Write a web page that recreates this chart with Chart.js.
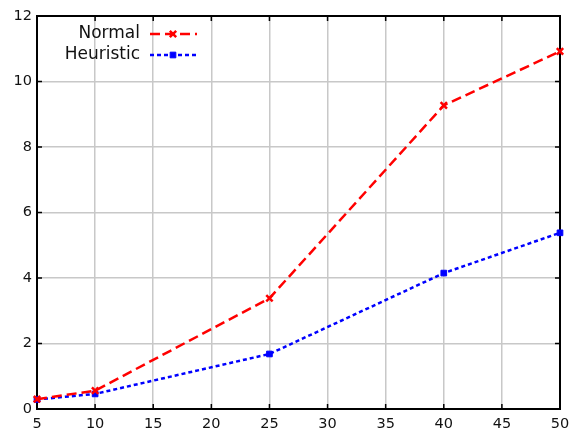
<!DOCTYPE html>
<html>
<head>
<meta charset="utf-8">
<script src="https://cdn.jsdelivr.net/npm/chart.js@4/dist/chart.umd.min.js"></script>
<style>
  html, body { margin: 0; padding: 0; background: #fff; }
  #wrap { width: 571px; height: 430px; }
</style>
</head>
<body>
<div id="wrap"><canvas id="c" width="571" height="430"></canvas></div>
<script>
// Problem sizes on the x axis
const sizes = [5, 10, 25, 40, 50];
// Measured values for the two methods
const normalValues = [0.30, 0.56, 3.38, 9.27, 10.92];
const heuristicValues = [0.29, 0.46, 1.68, 4.15, 5.38];
const seriesNames = ['Normal', 'Heuristic'];

const FONT = 'DejaVu Sans';

const toPoints = vals => sizes.map((x, i) => ({ x: x, y: vals[i] }));

// Black frame plus inward-pointing tick marks on all four sides
const framePlugin = {
  id: 'frame',
  beforeDatasetsDraw(chart) {
    const { ctx, chartArea: a, scales } = chart;
    ctx.save();
    ctx.strokeStyle = '#000';
    ctx.lineWidth = 1.5;
    const len = 5;
    ctx.beginPath();
    scales.x.ticks.forEach(t => {
      const px = scales.x.getPixelForValue(t.value);
      ctx.moveTo(px, a.bottom); ctx.lineTo(px, a.bottom - len);
      ctx.moveTo(px, a.top); ctx.lineTo(px, a.top + len);
    });
    scales.y.ticks.forEach(t => {
      const py = scales.y.getPixelForValue(t.value);
      ctx.moveTo(a.left, py); ctx.lineTo(a.left + len, py);
      ctx.moveTo(a.right, py); ctx.lineTo(a.right - len, py);
    });
    ctx.stroke();
    ctx.lineWidth = 2;
    ctx.strokeRect(a.left, a.top, a.right - a.left, a.bottom - a.top);
    ctx.restore();
  }
};

// Legend: right-aligned names followed by a line sample with its marker
const legendPlugin = {
  id: 'sideLegend',
  afterDraw(chart) {
    const { ctx } = chart;
    ctx.save();
    ctx.font = '17px "' + FONT + '"';
    ctx.textAlign = 'right';
    ctx.textBaseline = 'middle';
    const textRight = 140, x0 = 150, x1 = 197, xm = 173;
    chart.data.datasets.forEach((ds, i) => {
      const y = 34 + i * 21;
      ctx.fillStyle = '#111';
      ctx.fillText(ds.label, textRight, y);
      ctx.strokeStyle = ds.borderColor;
      ctx.lineWidth = ds.borderWidth;
      ctx.setLineDash(ds.borderDash);
      ctx.beginPath();
      ctx.moveTo(x0, y); ctx.lineTo(x1, y);
      ctx.stroke();
      ctx.setLineDash([]);
      ctx.fillStyle = ds.pointBackgroundColor;
      ctx.strokeStyle = ds.pointBorderColor;
      ctx.lineWidth = ds.pointBorderWidth;
      Chart.helpers.drawPoint(ctx, {
        pointStyle: ds.pointStyle,
        rotation: 0,
        radius: ds.pointRadius,
        borderWidth: ds.pointBorderWidth
      }, xm, y);
    });
    ctx.restore();
  }
};

new Chart(document.getElementById('c'), {
  type: 'line',
  data: {
    datasets: [
      {
        label: seriesNames[0],
        data: toPoints(normalValues),
        borderColor: '#ff0000',
        backgroundColor: '#ff0000',
        borderWidth: 2.5,
        borderDash: [10, 5],
        pointStyle: 'crossRot',
        pointRadius: 4.5,
        pointBorderWidth: 2.5,
        pointBorderColor: '#ff0000',
        pointBackgroundColor: '#ff0000',
        tension: 0,
        clip: false
      },
      {
        label: seriesNames[1],
        data: toPoints(heuristicValues),
        borderColor: '#0000ff',
        backgroundColor: '#0000ff',
        borderWidth: 2.5,
        borderDash: [4, 3],
        pointStyle: 'rect',
        pointRadius: 4,
        pointBorderWidth: 1,
        pointBorderColor: '#0000ff',
        pointBackgroundColor: '#0000ff',
        tension: 0,
        clip: false
      }
    ]
  },
  options: {
    responsive: false,
    animation: false,
    layout: { padding: { top: 16, right: 11, left: 0, bottom: 0 } },
    plugins: { legend: { display: false }, tooltip: { enabled: false } },
    scales: {
      x: {
        type: 'linear',
        min: 5, max: 50,
        border: { display: false },
        grid: { color: '#c8c8c8', lineWidth: 1.5, drawTicks: false },
        ticks: { stepSize: 5, padding: 7, color: '#111', font: { family: FONT, size: 14.5 } },
        afterFit(s) { s.height = 21; s.paddingLeft = 0; s.paddingRight = 0; }
      },
      y: {
        min: 0, max: 12,
        border: { display: false },
        grid: { color: '#c8c8c8', lineWidth: 1.5, drawTicks: false },
        ticks: { stepSize: 2, padding: 5, color: '#111', font: { family: FONT, size: 14.5 } },
        afterFit(s) { s.width = 37; s.paddingTop = 0; s.paddingBottom = 0; }
      }
    }
  },
  plugins: [framePlugin, legendPlugin]
});
</script>
</body>
</html>
